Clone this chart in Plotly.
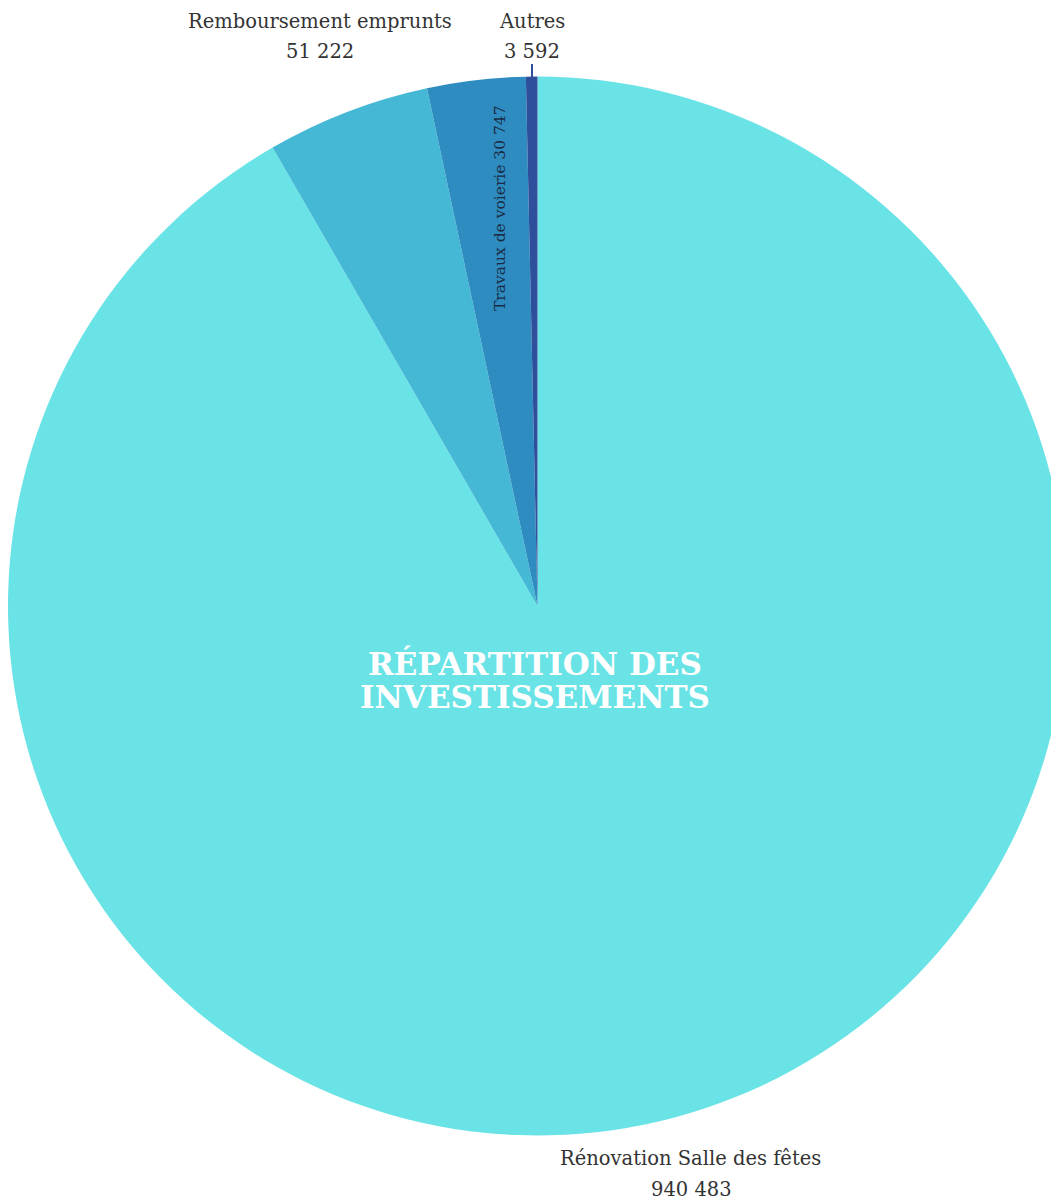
import plotly.graph_objects as go

# slices listed clockwise from 12 o'clock
labels = ["Rénovation Salle des fêtes", "Remboursement emprunts", "Travaux de voierie", "Autres"]
values = [940483, 51222, 30747, 3592]
colors = ["#6AE3E6", "#45B8D5", "#2E8CC0", "#2E4F9C"]
title_lines = ["RÉPARTITION DES", "INVESTISSEMENTS"]

W, H = 1059, 1202
OFF = 8  # page body margin
cx, cy, R = 529.5, 598, 529.5  # figure pixels (y from top)

def fmt(v):
    return f"{v:,}".replace(",", " ")

fig = go.Figure(go.Pie(
    labels=labels, values=values, sort=False, direction="clockwise",
    rotation=0, marker=dict(colors=colors, line=dict(width=0)),
    textinfo="none", hoverinfo="label+value", showlegend=False,
    domain=dict(x=[0, 1], y=[(H - cy - R) / H, (H - cy + R) / H]),
))

font_lbl = dict(family="DejaVu Serif", size=19.5, color="#333333")

def px(x, y):
    return (x - OFF) / W, 1 - (y - OFF) / H

ann = []
def add(xs, ys, text, font, yanchor="middle", **kw):
    x, y = px(xs, ys)
    ann.append(dict(x=x, y=min(y, 1), text=text, showarrow=False, xref="paper", yref="paper",
                    font=font, xanchor="center", yanchor=yanchor, **kw))

add(320, 8, labels[1], font_lbl, yanchor="top")
add(320, 52, fmt(values[1]), font_lbl)
add(532, 8, labels[3], font_lbl, yanchor="top")
add(532, 52, fmt(values[3]), font_lbl)
add(690, 1158, labels[0], font_lbl)
add(691, 1189, fmt(values[0]), font_lbl)
add(500, 208, f"{labels[2]} {fmt(values[2])}",
    dict(family="DejaVu Serif", size=15.5, color="#1a2a44"), textangle=-90)
tfont = dict(family="DejaVu Serif", size=31, color="white")
add(535, 663, f"<b>{title_lines[0]}</b>", tfont)
add(535, 697, f"<b>{title_lines[1]}</b>", tfont)

fig.update_layout(
    width=W, height=H, margin=dict(l=0, r=0, t=0, b=0),
    paper_bgcolor="white", plot_bgcolor="white", annotations=ann,
    shapes=[dict(type="line", xref="paper", yref="paper",
                 x0=(532 - OFF) / W, x1=(532 - OFF) / W,
                 y0=1 - (64 - OFF) / H, y1=1 - (86 - OFF) / H,
                 line=dict(color="#2E4F9C", width=2))],
)
fig.write_html("out.html")
